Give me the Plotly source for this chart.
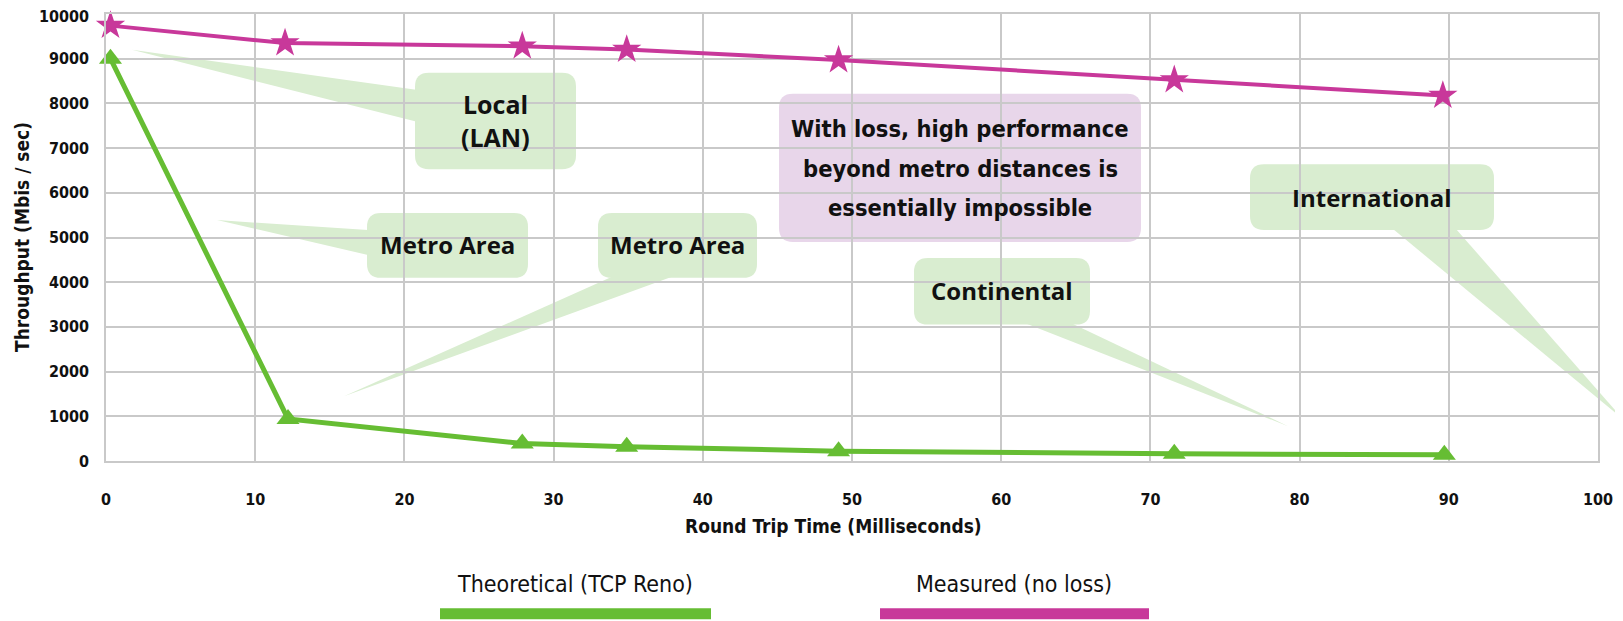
import plotly.graph_objects as go

# ---- data ----
rtt_measured = [0.3, 12.0, 27.9, 34.9, 49.1, 71.6, 89.6]
measured_no_loss = [9740, 9350, 9280, 9205, 8970, 8525, 8175]
rtt_theoretical = [0.3, 12.2, 27.9, 34.9, 49.1, 71.6, 89.7]
theoretical_reno = [9000, 940, 390, 320, 220, 160, 140]
x_tick_vals = list(range(0, 101, 10))
y_tick_vals = list(range(0, 10001, 1000))
y_tick_text = [str(v) for v in y_tick_vals]

series_names = ["Theoretical (TCP Reno)", "Measured (no loss)"]
x_title = "Round Trip Time (Milliseconds)"
y_title = "Throughput (Mbis / sec)"

GREEN = "#66BD33"
MAGENTA = "#C8389A"
BOX_GREEN = "#D9EDD0"
BOX_PURPLE = "#E8D6EA"
GRID = "#C9C9C9"

# the page body has an 8px margin; design in window pixels and compensate
OFF = 8
W, H = 1623 - OFF, 621 - OFF
PL, PR, PT, PB = 106, 1598, 12, 461  # plot area in window pixels

COND = "DejaVu Sans Condensed, DejaVu Sans, sans-serif"
SEMI = "Open Sans, Noto Sans, sans-serif"


def px(x):
    return (x - PL) / (PR - PL)


def py(y):
    return (PB - y) / (PB - PT)


def rounded_box(x0, y0, x1, y1, r=14):
    p = lambda x, y: f"{px(x):.5f},{py(y):.5f}"
    return (
        f"M {p(x0 + r, y0)} L {p(x1 - r, y0)} Q {p(x1, y0)} {p(x1, y0 + r)} "
        f"L {p(x1, y1 - r)} Q {p(x1, y1)} {p(x1 - r, y1)} "
        f"L {p(x0 + r, y1)} Q {p(x0, y1)} {p(x0, y1 - r)} "
        f"L {p(x0, y0 + r)} Q {p(x0, y0)} {p(x0 + r, y0)} Z"
    )


def poly(points):
    return "M " + " L ".join(f"{px(x):.5f},{py(y):.5f}" for x, y in points) + " Z"


fig = go.Figure()
fig.add_trace(go.Scatter(
    x=rtt_theoretical, y=theoretical_reno, mode="lines+markers",
    name=series_names[0],
    line=dict(color=GREEN, width=5),
    marker=dict(symbol="triangle-up", size=20, color=GREEN),
    showlegend=False, cliponaxis=False,
))
fig.add_trace(go.Scatter(
    x=rtt_measured, y=measured_no_loss, mode="lines+markers",
    name=series_names[1],
    line=dict(color=MAGENTA, width=4),
    marker=dict(symbol="star", size=22, color=MAGENTA),
    showlegend=False, cliponaxis=False,
))

shapes = []
callouts = [
    ((415, 71, 576, 168), [(132, 48), (416, 88), (416, 120)], BOX_GREEN),
    ((367, 212, 528, 277), [(217, 219), (368, 229), (368, 254)], BOX_GREEN),
    ((598, 212, 757, 277), [(344, 396), (612, 276), (672, 276)], BOX_GREEN),
    ((779, 92, 1141, 241), None, BOX_PURPLE),
    ((914, 257, 1090, 324), [(1026, 323), (1072, 323), (1288, 426)], BOX_GREEN),
    ((1250, 163, 1494, 229), [(1393, 228), (1456, 228), (1623, 419)], BOX_GREEN),
]
for box, tail, col in callouts:
    shapes.append(dict(type="path", xref="paper", yref="paper", path=rounded_box(*box),
                       fillcolor=col, line=dict(width=0), layer="between"))
    if tail:
        shapes.append(dict(type="path", xref="paper", yref="paper", path=poly(tail),
                           fillcolor=col, line=dict(width=0), layer="between"))

# custom legend bars
shapes.append(dict(type="rect", xref="paper", yref="paper",
                   x0=px(440), x1=px(711), y0=py(609), y1=py(620),
                   fillcolor=GREEN, line=dict(width=0)))
shapes.append(dict(type="rect", xref="paper", yref="paper",
                   x0=px(880), x1=px(1149), y0=py(609), y1=py(620),
                   fillcolor=MAGENTA, line=dict(width=0)))

annotations = []


def label(text, x, y, size=24, family=SEMI, weight=700, angle=0):
    annotations.append(dict(text=text, x=px(x), y=py(y), xref="paper", yref="paper",
                            showarrow=False, xanchor="center", yanchor="middle",
                            textangle=angle,
                            font=dict(family=family, size=size, color="#111111", weight=weight)))


label("Local", 495, 102, size=25)
label("(LAN)", 495, 136, size=25)
label("Metro Area", 447, 244)
label("Metro Area", 677, 244)
label("With loss, high performance", 960, 128, size=23.5, family=COND, weight=700)
label("beyond metro distances is", 960, 168, size=23.5, family=COND, weight=700)
label("essentially impossible", 960, 207, size=23.5, family=COND, weight=700)
label("Continental", 1002, 290)
label("International", 1372, 196)

label(x_title, 833, 526, size=19, family=COND, weight=700)
label(y_title, 22, 236, size=19, family=COND, weight=700, angle=-90)
label(series_names[0], 575, 585, size=23, family=COND, weight=400)
label(series_names[1], 1014, 585, size=23, family=COND, weight=400)

# y tick labels as annotations so the top one is not dropped near the page edge
for v, t in zip(y_tick_vals, y_tick_text):
    annotations.append(dict(text=t, x=px(91), y=v, xref="paper", yref="y",
                            showarrow=False, xanchor="right", yanchor="middle",
                            yshift=-2 if v == y_tick_vals[-1] else 0,
                            font=dict(family=COND, size=16, color="#111111", weight=700)))

fig.update_layout(
    width=W, height=H,
    margin=dict(l=PL - OFF, r=W - (PR - OFF), t=PT - OFF, b=H - (PB - OFF), pad=0),
    paper_bgcolor="white", plot_bgcolor="white",
    shapes=shapes, annotations=annotations,
    xaxis=dict(range=[0, 100], tickvals=x_tick_vals, showgrid=True, gridcolor=GRID, gridwidth=2,
               showline=True, linecolor=GRID, linewidth=2, mirror=True, zeroline=False,
               ticks="", ticklabelstandoff=23,
               tickfont=dict(family=COND, size=16, color="#111111", weight=700)),
    yaxis=dict(range=[0, 10000], tickvals=y_tick_vals, showticklabels=False,
               showgrid=True, gridcolor=GRID, gridwidth=2,
               showline=True, linecolor=GRID, linewidth=2, mirror=True, zeroline=False,
               ticks=""),
)

fig.write_html("out.html")
